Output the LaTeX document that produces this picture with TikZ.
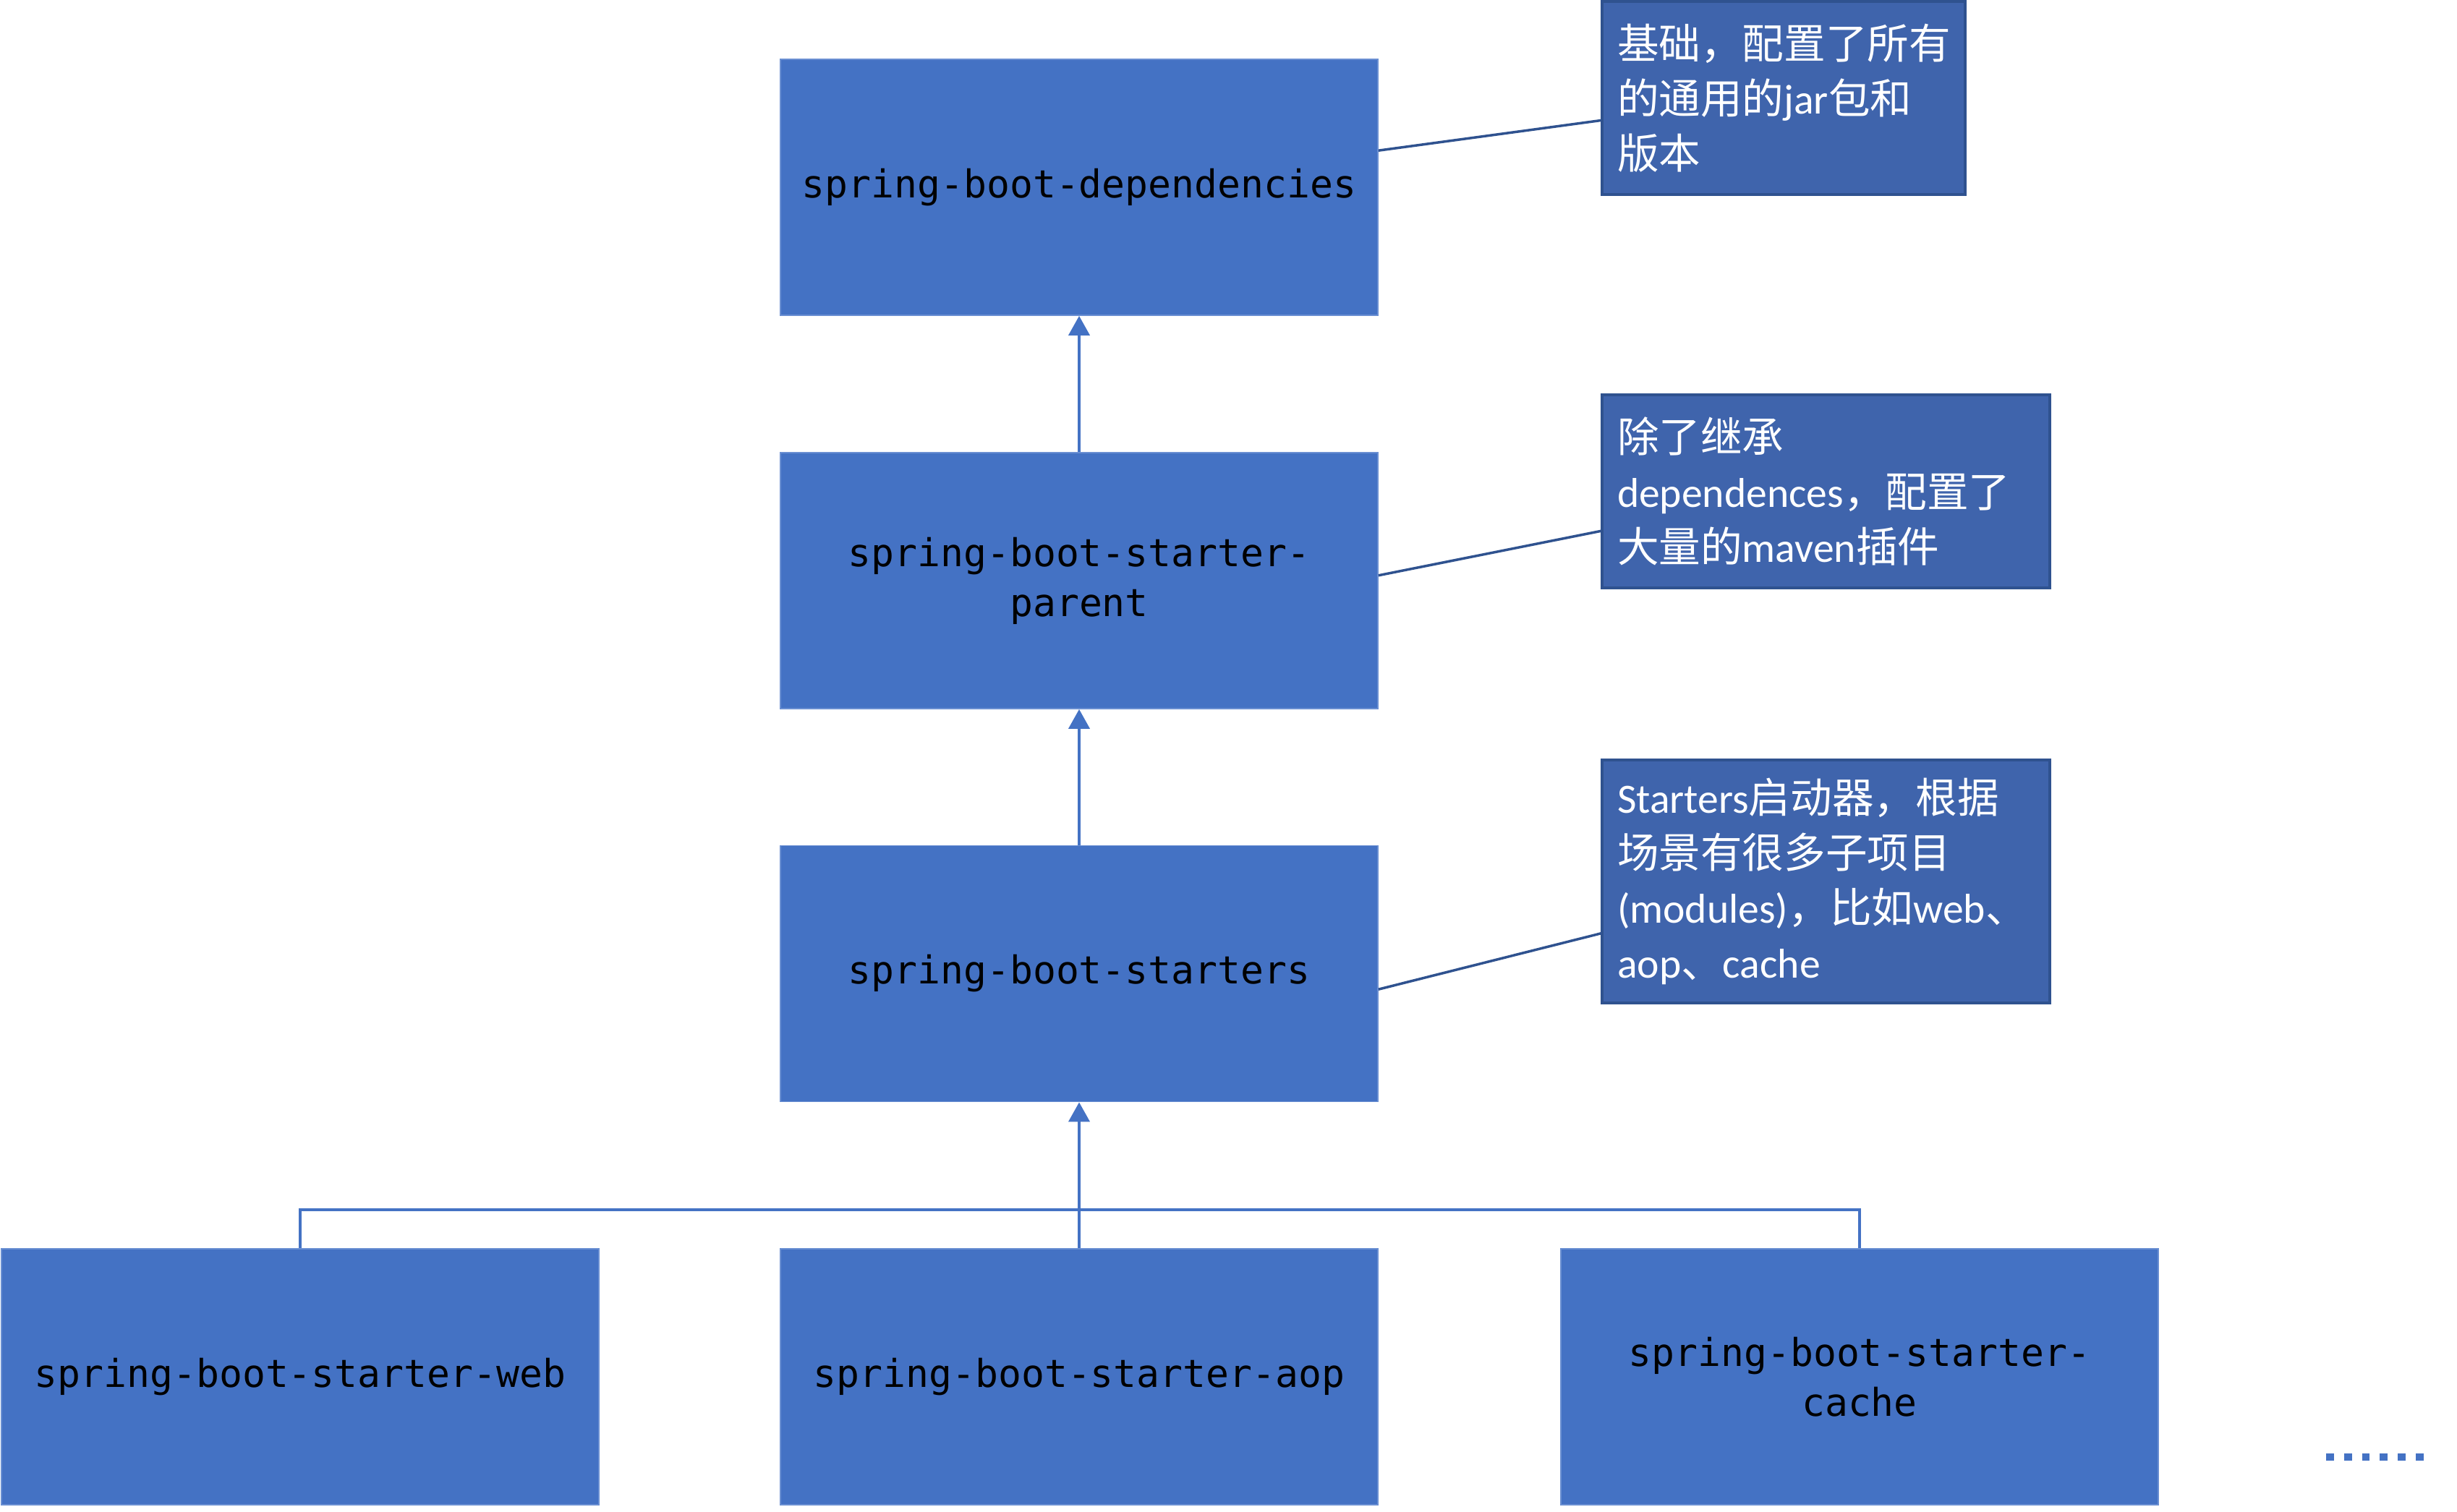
\documentclass[tikz,border=0pt]{standalone}
\usepackage{fontspec}
\setmainfont{Carlito}
\setmonofont{DejaVu Sans Mono}
\newfontfamily\cjk{Noto Sans CJK SC}
\usepackage{tikz}
\usetikzlibrary{arrows.meta}
\usepackage{xcolor}
\definecolor{boxblue}{HTML}{4472C4}
\definecolor{boxedge}{HTML}{6A8FD2}
\definecolor{noteblue}{HTML}{3F64AC}
\definecolor{noteedge}{HTML}{2F528F}
\tikzset{
  >=latex, % default arrow head
  module/.style={rectangle,fill=boxblue,draw=boxedge,line width=0.5pt,
                 minimum width=8.26cm,minimum height=3.54cm,inner sep=0,
                 align=center,font=\fontsize{15.1}{19.7}\selectfont\ttfamily},
  note/.style={rectangle,fill=noteblue,draw=noteedge,line width=1pt,
               inner xsep=0.21cm,inner ysep=0,align=left,text=white,
               font=\fontsize{16.4}{21.6}\selectfont},
  note small/.style={note,text width=4.60cm},
  note wide/.style={note,text width=5.77cm},
  inherit/.style={-{Triangle[length=0.27cm,width=0.29cm]},line width=0.04cm,boxblue},
  bus/.style={line width=0.04cm,boxblue},
  link/.style={line width=0.035cm,noteedge}
}
\begin{document}
\begin{tikzpicture}
  \useasboundingbox (0,0) rectangle (33.97,-20.91);
  % Draw the inheritance chain
  \node[module] (deps) at (14.92,-2.59) {spring-boot-dependencies};
  \node[module] (parent) at (14.92,-8.03) {spring-boot-starter-\\parent};
  \node[module] (starters) at (14.92,-13.465) {spring-boot-starters};
  % Draw the starter modules
  \foreach \t/\x [count=\mi] in {{spring-boot-starter-web}/4.15,
                                 {spring-boot-starter-aop}/14.92,
                                 {spring-boot-starter-\\cache}/25.71}{%
    \node[module] (s\mi) at (\x,-19.04) {\t};
  }
  % Arrows up the chain
  \draw[inherit] (parent) -- (deps);
  \draw[inherit] (starters) -- (parent);
  \draw[inherit] (s2) -- (starters);
  \coordinate (busmid) at (14.92,-16.73);
  \draw[bus] (s1.north) |- (busmid) -| (s3.north);
  % Notes on the right
  \node[note small,minimum height=2.67cm] (n1) at (24.66,-1.355)
    {{\cjk 基础，配置了所有}\\{\cjk 的通用的}jar{\cjk 包和}\\{\cjk 版本}};
  \node[note wide,minimum height=2.67cm] (n2) at (25.245,-6.795)
    {{\cjk 除了继承}\\dependences{\cjk ，配置了}\\{\cjk 大量的}maven{\cjk 插件}};
  \node[note wide,minimum height=3.36cm] (n3) at (25.245,-12.19)
    {Starters{\cjk 启动器，根据}\\{\cjk 场景有很多子项目}\\(modules){\cjk ，比如}web{\cjk 、}\\aop{\cjk 、}cache};
  \draw[link] (deps.7.3) -- (n1.187.7);
  \draw[link] (parent.1.7) -- (n2.190.5);
  \draw[link] (starters.357.7) -- (n3.193.6);
  % More starters ...
  \coordinate (more a) at (32.16,-20.15);
  \coordinate (more b) at (33.51,-20.15);
  \draw[line width=0.107cm,boxblue,dash pattern=on 0.107cm off 0.141cm] (more a) -- (more b);
\end{tikzpicture}
\end{document}
